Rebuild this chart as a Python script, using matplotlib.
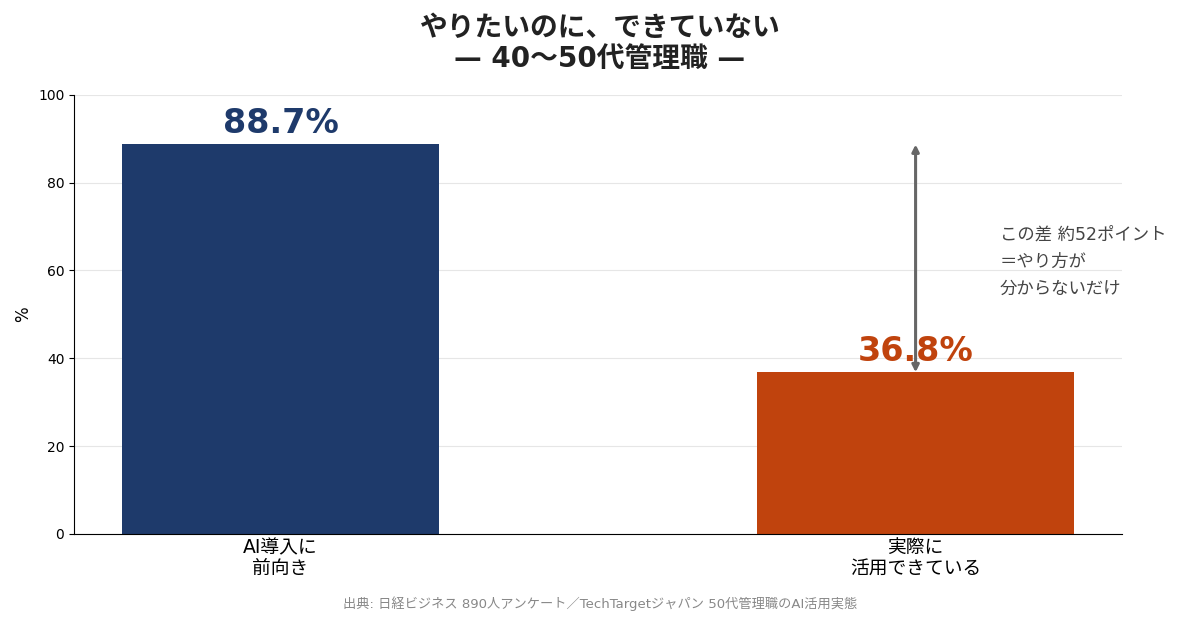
import matplotlib
matplotlib.use("Agg")
import matplotlib.pyplot as plt

plt.rcParams['font.family'] = ['DejaVu Sans', 'Noto Sans CJK JP']

# data
categories = ["AI導入に\n前向き", "実際に\n活用できている"]
values = [88.7, 36.8]
colors = ["#1E3A6B", "#C0430D"]
labels = ["88.7%", "36.8%"]
gap_note = "この差 約52ポイント\n＝やり方が\n分からないだけ"
source = "出典: 日経ビジネス 890人アンケート／TechTargetジャパン 50代管理職のAI活用実態"

fig = plt.figure(figsize=(12, 6.2), dpi=100)
ax = fig.add_axes([0.0617, 0.139, 0.8733, 0.708])

x = range(len(categories))
ax.bar(x, values, width=0.5, color=colors, zorder=2)

for i, (v, lab, c) in enumerate(zip(values, labels, colors)):
    ax.annotate(lab, (i, v), xytext=(0, 3), textcoords="offset points",
                ha="center", va="bottom", fontsize=24, fontweight="bold", color=c)

# gap arrow
ax.annotate("", xy=(1, values[0]), xytext=(1, values[1]),
            arrowprops=dict(arrowstyle="<|-|>", color="#666666", lw=2.2,
                            mutation_scale=10, shrinkA=0, shrinkB=0), zorder=3)
ax.text(1.133, 62, gap_note, ha="left", va="center", fontsize=12.5,
        color="#444444", linespacing=1.62)

ax.set_ylim(0, 100)
ax.set_xticks(list(x))
ax.set_xticklabels(categories, fontsize=13.5, linespacing=1.1)
ax.tick_params(axis="x", length=0, pad=3)
ax.tick_params(axis="y", labelsize=10)
ax.set_ylabel("%", fontsize=12)
ax.yaxis.grid(True, color="#E6E6E6", lw=0.8, zorder=0)
ax.set_axisbelow(True)
for s in ["top", "right"]:
    ax.spines[s].set_visible(False)

fig.suptitle("やりたいのに、できていない\n— 40〜50代管理職 —", fontsize=20,
             fontweight="bold", y=0.978, color="#222222", linespacing=1.15)
fig.text(0.5, 0.027, source, ha="center", va="center", fontsize=9.5, color="#888888")

fig.savefig("out.png", dpi=100)
